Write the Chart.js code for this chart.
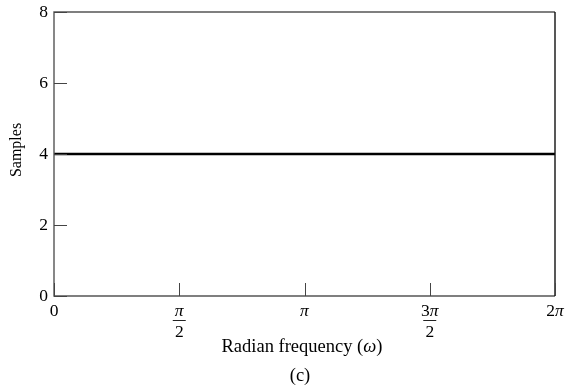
<!DOCTYPE html>
<html lang="en">
<head>
<meta charset="UTF-8">
<title>Samples vs radian frequency</title>
<script src="https://cdn.jsdelivr.net/npm/chart.js"></script>
<style>
  html, body { margin: 0; padding: 0; background: #fff; }
  #wrap { width: 568px; height: 388px; position: relative; }
</style>
</head>
<body>
<div id="wrap"><canvas id="myChart"></canvas></div>
<script>
// data
const omega = [0, 2 * Math.PI];
const samples = [4, 4];

// ticks
const xTickValues = [0, Math.PI / 2, Math.PI, 3 * Math.PI / 2, 2 * Math.PI];
const xTickLabels = [['0'], ['π', '2'], ['π'], ['3π', '2'], ['2π']];
const yTickValues = [0, 2, 4, 6, 8];
const yTickLabels = ['0', '2', '4', '6', '8'];

const serif = '"Liberation Serif", "Times New Roman", serif';
const tickFont = '17.5px ' + serif;
const tickFontIt = 'italic 17.5px ' + serif;

// frame, inward ticks and labels
const axesPlugin = {
  id: 'axesPlugin',
  afterDraw(chart) {
    const ctx = chart.ctx;
    const a = chart.chartArea;
    const xs = chart.scales.x, ys = chart.scales.y;
    ctx.save();

    // frame
    ctx.strokeStyle = '#555';
    ctx.lineWidth = 1.4;
    ctx.beginPath();
    ctx.moveTo(a.right, a.top); ctx.lineTo(a.left, a.top);
    ctx.lineTo(a.left, a.bottom); ctx.lineTo(a.right, a.bottom);
    ctx.stroke();
    ctx.strokeStyle = '#111';
    ctx.beginPath(); ctx.moveTo(a.right, a.top); ctx.lineTo(a.right, a.bottom); ctx.stroke();

    // ticks
    ctx.lineWidth = 1;
    ctx.strokeStyle = '#444';
    yTickValues.forEach(v => {
      const y = Math.round(ys.getPixelForValue(v)) + 0.5;
      ctx.beginPath(); ctx.moveTo(a.left, y); ctx.lineTo(a.left + 13, y); ctx.stroke();
    });
    xTickValues.forEach(v => {
      const x = Math.round(xs.getPixelForValue(v)) + 0.5;
      ctx.beginPath(); ctx.moveTo(x, a.bottom); ctx.lineTo(x, a.bottom - 13); ctx.stroke();
    });

    // y labels
    ctx.fillStyle = '#000';
    ctx.strokeStyle = '#222';
    ctx.font = tickFont;
    ctx.textAlign = 'right';
    ctx.textBaseline = 'middle';
    yTickValues.forEach((v, i) => {
      ctx.fillText(yTickLabels[i], a.left - 6, ys.getPixelForValue(v));
    });

    // x labels (fractions get a bar)
    xTickValues.forEach((v, i) => {
      const x = xs.getPixelForValue(v);
      const lab = xTickLabels[i];
      if (lab.length === 1) {
        drawMath(ctx, lab[0], x, a.bottom + 15);
      } else {
        drawMath(ctx, lab[0], x, a.bottom + 15);
        ctx.beginPath();
        ctx.lineWidth = 1;
        ctx.moveTo(x - 6.5, a.bottom + 24.5);
        ctx.lineTo(x + 6.5, a.bottom + 24.5);
        ctx.stroke();
        ctx.font = tickFont;
        ctx.textAlign = 'center';
        ctx.fillText(lab[1], x, a.bottom + 36);
      }
    });

    // axis title
    const tf = '18.5px ' + serif, tfi = 'italic 18.5px ' + serif;
    const t1 = 'Radian frequency (', t2 = 'ω', t3 = ')';
    ctx.font = tf;
    const w1 = ctx.measureText(t1).width, w3 = ctx.measureText(t3).width;
    ctx.font = tfi;
    const w2 = ctx.measureText(t2).width;
    const sx = 302 - (w1 + w2 + w3) / 2;
    ctx.textAlign = 'left';
    ctx.font = tf;
    ctx.fillText(t1, sx, 347);
    ctx.font = tfi;
    ctx.fillText(t2, sx + w1, 347);
    ctx.font = tf;
    ctx.fillText(t3, sx + w1 + w2, 347);

    ctx.textAlign = 'center';
    ctx.fillText('(c)', 300, 376);

    // y title
    ctx.translate(17, 150);
    ctx.rotate(-Math.PI / 2);
    ctx.font = '16px ' + serif;
    ctx.fillText('Samples', 0, 0);
    ctx.restore();
  }
};

// draw label where π is italic
function drawMath(ctx, s, x, y) {
  const parts = s.split(/(π)/).filter(p => p.length);
  const fonts = parts.map(p => (p === 'π' ? tickFontIt : tickFont));
  let total = 0;
  const widths = parts.map((p, i) => { ctx.font = fonts[i]; const w = ctx.measureText(p).width; total += w; return w; });
  ctx.textAlign = 'left';
  let cx = x - total / 2;
  parts.forEach((p, i) => {
    ctx.font = fonts[i];
    ctx.fillText(p, cx, y);
    cx += widths[i];
  });
  ctx.textAlign = 'center';
  ctx.font = tickFont;
}

const ctx = document.getElementById('myChart').getContext('2d');
const myChart = new Chart(ctx, {
  type: 'line',
  data: {
    datasets: [{
      data: omega.map((w, i) => ({ x: w, y: samples[i] })),
      borderColor: '#000',
      borderWidth: 2.6,
      pointRadius: 0,
      fill: false,
      tension: 0
    }]
  },
  options: {
    responsive: true,
    maintainAspectRatio: false,
    animation: false,
    layout: { padding: { left: 54, right: 13, top: 12, bottom: 92 } },
    plugins: { legend: { display: false }, tooltip: { enabled: false } },
    scales: {
      x: {
        type: 'linear', min: 0, max: 2 * Math.PI,
        grid: { display: false, drawTicks: false },
        border: { display: false },
        ticks: { display: false }
      },
      y: {
        type: 'linear', min: 0, max: 8,
        grid: { display: false, drawTicks: false },
        border: { display: false },
        ticks: { display: false }
      }
    }
  },
  plugins: [axesPlugin]
});
</script>
</body>
</html>
